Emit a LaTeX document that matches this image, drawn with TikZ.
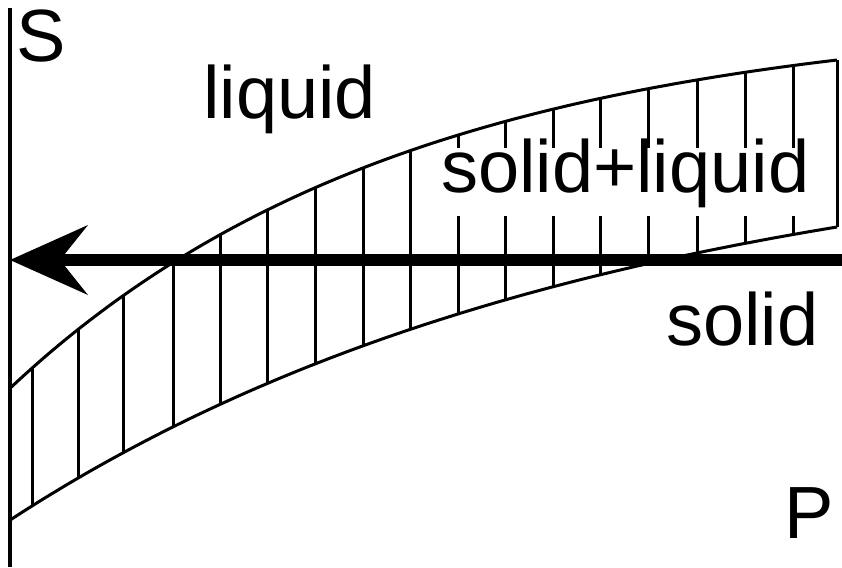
\documentclass[tikz,border=0pt]{standalone}
\usepackage{fontspec}
\setmainfont{Liberation Sans}
\usetikzlibrary{arrows.meta}
\begin{document}
\begin{tikzpicture}[x=1pt,y=-1pt,
  lbl/.style={font=\fontsize{74}{74}\selectfont, inner sep=0pt, anchor=base west},
  thinline/.style={line width=3pt, line cap=butt},
  hatch/.style={line width=3pt}]
\useasboundingbox (0,0) rectangle (842,567);
% hatching between the two curves
\foreach \xx in {32,78,123,173,220,267,315,363,410,458,505,553,600,648,697,745,793,837}
  \draw[hatch] (\xx,{12.5+385.2*exp(-\xx/400)}) -- (\xx,{128.3+398.3*exp(-\xx/600)});
% label of the two-phase region, on a white patch
\node[lbl, fill=white, inner xsep=11pt, inner ysep=0pt, text height=44pt, text depth=24pt] (twophase) at (430,192) {solid+liquid};
% liquidus and solidus curves
\draw[thinline] plot[domain=10:837, samples=120] (\x,{12.5+385.2*exp(-\x/400)});
\draw[thinline] plot[domain=10:837, samples=120] (\x,{128.3+398.3*exp(-\x/600)});
% axis
\coordinate (axtop) at (10,8);
\coordinate (axbot) at (10,567);
\draw[line width=4pt] (axtop) -- (axbot);
% thick arrow
\coordinate (arrstart) at (842,260);
\coordinate (arrend) at (10,260);
\draw[line width=12pt, -{Stealth[length=78pt, width=70pt, inset=28pt, line width=0pt]}] (arrstart) -- (arrend);
% labels
\node[lbl] (slabel) at (16.5,62) {S};
\node[lbl] (liquid) at (203,118) {liquid};
\node[lbl] (solid) at (666,345) {solid};
\node[lbl] (plabel) at (784,538) {P};
\end{tikzpicture}
\end{document}
